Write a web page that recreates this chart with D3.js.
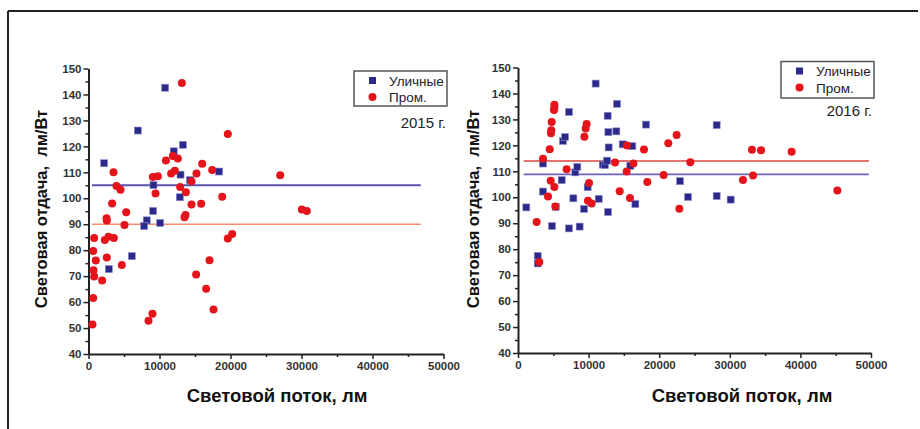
<!DOCTYPE html>
<html>
<head>
<meta charset="utf-8">
<script src="https://cdn.jsdelivr.net/npm/d3@7"></script>
<style>
  body { margin: 0; background: #fff; }
  svg text { font-family: "Liberation Sans", Arial, sans-serif; }
</style>
</head>
<body>
<svg id="chart" width="920" height="429"></svg>
<script>
// data: [lumen, lm/W]
var street2015 = [[2200,113.5],[10800,142.6],[6950,126.1],[12000,118.1],[13300,120.6],[12960,109.1],
  [14300,107.0],[18400,110.3],[9150,105.1],[12860,100.4],[9100,95.1],[8200,91.5],[7840,89.3],
  [10090,90.5],[6100,77.7],[2860,72.7]];
var prom2015 = [[13150,144.4],[19620,124.8],[10900,114.6],[11880,116.3],[12580,115.3],[11640,109.5],
  [12160,110.6],[3520,110.0],[16010,113.3],[17420,110.9],[15210,109.5],[27000,108.9],[9060,108.2],
  [9770,108.5],[12910,104.3],[14510,106.6],[3940,104.7],[4510,103.3],[13710,102.3],[9440,101.8],
  [18830,100.6],[3330,98.0],[14510,97.6],[15870,97.9],[5310,94.6],[13660,93.6],[13520,92.7],
  [30050,95.7],[30750,95.1],[2540,92.3],[2580,91.4],[5070,89.7],[800,84.7],[2300,83.9],[2820,85.2],
  [3570,84.7],[19620,84.5],[20230,86.2],[660,79.7],[1030,76.0],[2580,77.2],[17040,76.1],[4690,74.3],
  [700,72.3],[800,69.9],[1920,68.3],[15160,70.6],[16570,65.1],[660,61.6],[17610,57.1],[9010,55.5],
  [8450,52.8],[560,51.4]];
var street2016 = [[1180,96.1],[2790,77.4],[2790,74.5],[3540,113.0],[3540,102.2],[4820,88.9],[5340,96.3],
  [6190,106.6],[6370,121.7],[6660,123.2],[7220,132.9],[7220,88.0],[7840,99.6],[8120,109.6],[8400,111.7],
  [8730,88.7],[9350,95.5],[9870,103.9],[11000,143.8],[11430,99.4],[12000,112.6],[12300,112.4],
  [12600,114.1],[12700,131.4],[12800,125.1],[12840,119.2],[12750,94.3],[14020,136.0],[13930,125.4],
  [14830,120.4],[16190,119.7],[15910,112.1],[16620,97.4],[18130,128.0],[22950,106.2],[24080,100.1],
  [28140,127.8],[28140,100.5],[30120,99.1]];
var prom2016 = [[2640,90.5],[3020,75.1],[3540,114.8],[4250,100.3],[4490,118.5],[4630,106.4],[4670,124.7],
  [4720,125.8],[4770,129.0],[5150,135.6],[5150,134.5],[5100,133.6],[5150,104.0],[5290,96.4],[6890,110.8],
  [9400,123.3],[9580,126.5],[9720,128.2],[10060,105.5],[9910,98.7],[10430,97.6],[13740,113.4],
  [14400,102.3],[15440,119.9],[15390,109.9],[15860,99.7],[16340,113.0],[17850,118.4],[18320,105.9],
  [20630,108.6],[21290,120.8],[22470,124.0],[22850,95.6],[24410,113.5],[31870,106.7],[33140,118.3],
  [33290,108.4],[34420,118.1],[38760,117.5],[45230,102.6]];
// average lines: [value, from, to]
var meanStreet = [105, 108.8];
var meanProm = [90, 114];
var meanSpan = [[500, 46800], [800, 49700]];
var years = ["2015 г.", "2016 г."];
var seriesNames = ["Уличные", "Пром."];
var xTicks = [0, 10000, 20000, 30000, 40000, 50000];
var yTicks = [40, 50, 60, 70, 80, 90, 100, 110, 120, 130, 140, 150];

var svg = d3.select("#chart");

// outer frame (top + left edges visible)
svg.append("line").attr("x1", 8).attr("y1", 11).attr("x2", 918).attr("y2", 11)
   .attr("stroke", "#222").attr("stroke-width", 2);
svg.append("line").attr("x1", 8).attr("y1", 11).attr("x2", 8).attr("y2", 429)
   .attr("stroke", "#222").attr("stroke-width", 2);

var panels = [
  {x0: 88.5, x1: 443.5, y0: 354, y1: 68.5, street: street2015, prom: prom2015,
   lineStreet: "#5852ad", lineProm: "#f6896f", legend: [354, 71, 93, 35], yearY: 122, yearX: 446,
   ytitleX: 42, xtitleX: 277, streetW: 2, promW: 1.6},
  {x0: 518, x1: 871, y0: 353, y1: 67.5, street: street2016, prom: prom2016,
   lineStreet: "#6a64bd", lineProm: "#d8463e", legend: [781, 61.5, 93, 36.5], yearY: 110, yearX: 872,
   ytitleX: 474, xtitleX: 742, streetW: 1.8, promW: 1.6}
];

panels.forEach(function(p, i) {
  var x = d3.scaleLinear().domain([0, 50000]).range([p.x0, p.x1]);
  var y = d3.scaleLinear().domain([40, 150]).range([p.y0, p.y1]);
  var g = svg.append("g");

  // minor ticks
  g.append("g").attr("transform", "translate(0," + p.y0 + ")")
   .call(d3.axisBottom(x).tickValues(d3.range(5000, 50000, 10000)).tickSize(3).tickFormat(""))
   .call(function(a) { a.select(".domain").remove(); a.selectAll("line").attr("stroke", "#222").attr("stroke-width", 1.5); });
  g.append("g").attr("transform", "translate(" + p.x0 + ",0)")
   .call(d3.axisLeft(y).tickValues(d3.range(45, 150, 10)).tickSize(3).tickFormat(""))
   .call(function(a) { a.select(".domain").remove(); a.selectAll("line").attr("stroke", "#222").attr("stroke-width", 1.5); });

  // major axes
  var xa = g.append("g").attr("transform", "translate(0," + p.y0 + ")")
   .call(d3.axisBottom(x).tickValues(xTicks).tickSize(5).tickSizeOuter(0).tickPadding(3).tickFormat(d3.format("d")));
  var ya = g.append("g").attr("transform", "translate(" + p.x0 + ",0)")
   .call(d3.axisLeft(y).tickValues(yTicks).tickSize(5).tickSizeOuter(0).tickPadding(2));
  [xa, ya].forEach(function(a) {
    a.select(".domain").attr("stroke", "#222").attr("stroke-width", 2);
    a.selectAll("line").attr("stroke", "#222").attr("stroke-width", 1.5);
    a.selectAll("text").attr("font-size", 11.5).attr("fill", "#333").attr("font-weight", "bold")
     .style("font-family", "Liberation Sans, Arial, sans-serif");
  });

  // mean lines
  g.append("line").attr("x1", x(meanSpan[i][0])).attr("x2", x(meanSpan[i][1]))
   .attr("y1", y(meanStreet[i])).attr("y2", y(meanStreet[i]))
   .attr("stroke", p.lineStreet).attr("stroke-width", p.streetW);
  g.append("line").attr("x1", x(meanSpan[i][0])).attr("x2", x(meanSpan[i][1]))
   .attr("y1", y(meanProm[i])).attr("y2", y(meanProm[i]))
   .attr("stroke", p.lineProm).attr("stroke-width", p.promW);

  // points
  g.selectAll(".sq").data(p.street).enter().append("rect")
   .attr("x", function(d) { return x(d[0]) - 3.5; })
   .attr("y", function(d) { return y(d[1]) - 3.5; })
   .attr("width", 7).attr("height", 7)
   .attr("fill", "#2c2a88").attr("stroke", "#8c8ad0").attr("stroke-width", 0.6);
  g.selectAll(".ci").data(p.prom).enter().append("circle")
   .attr("cx", function(d) { return x(d[0]); })
   .attr("cy", function(d) { return y(d[1]); })
   .attr("r", 4).attr("fill", "#e4141a");

  // legend
  var L = p.legend;
  g.append("rect").attr("x", L[0]).attr("y", L[1]).attr("width", L[2]).attr("height", L[3])
   .attr("fill", "#fff").attr("stroke", "#555").attr("stroke-width", 1.5);
  g.append("rect").attr("x", L[0] + 15).attr("y", L[1] + 6).attr("width", 7).attr("height", 7)
   .attr("fill", "#2c2a88");
  g.append("circle").attr("cx", L[0] + 18.5).attr("cy", L[1] + 26).attr("r", 4).attr("fill", "#e4141a");
  g.append("text").attr("x", L[0] + 35).attr("y", L[1] + 14.5).attr("font-size", 13.5).attr("fill", "#222")
   .text(seriesNames[0]);
  g.append("text").attr("x", L[0] + 35).attr("y", L[1] + 31).attr("font-size", 13.5).attr("fill", "#222")
   .text(seriesNames[1]);
  g.append("text").attr("x", p.yearX).attr("y", p.yearY + 5.5).attr("text-anchor", "end")
   .attr("font-size", 15).attr("fill", "#222").text(years[i]);

  // axis titles
  g.append("text").attr("x", p.xtitleX).attr("y", 402).attr("text-anchor", "middle")
   .attr("font-size", 18.5).attr("font-weight", "bold").attr("fill", "#111").text("Световой поток, лм");
  g.append("text").attr("transform", "translate(" + (p.ytitleX + 5) + ",209) rotate(-90)")
   .attr("text-anchor", "middle").attr("font-size", 16.5).attr("font-weight", "bold").attr("fill", "#111")
   .attr("xml:space", "preserve").text("Световая отдача,  лм/Вт");
});
</script>
</body>
</html>
